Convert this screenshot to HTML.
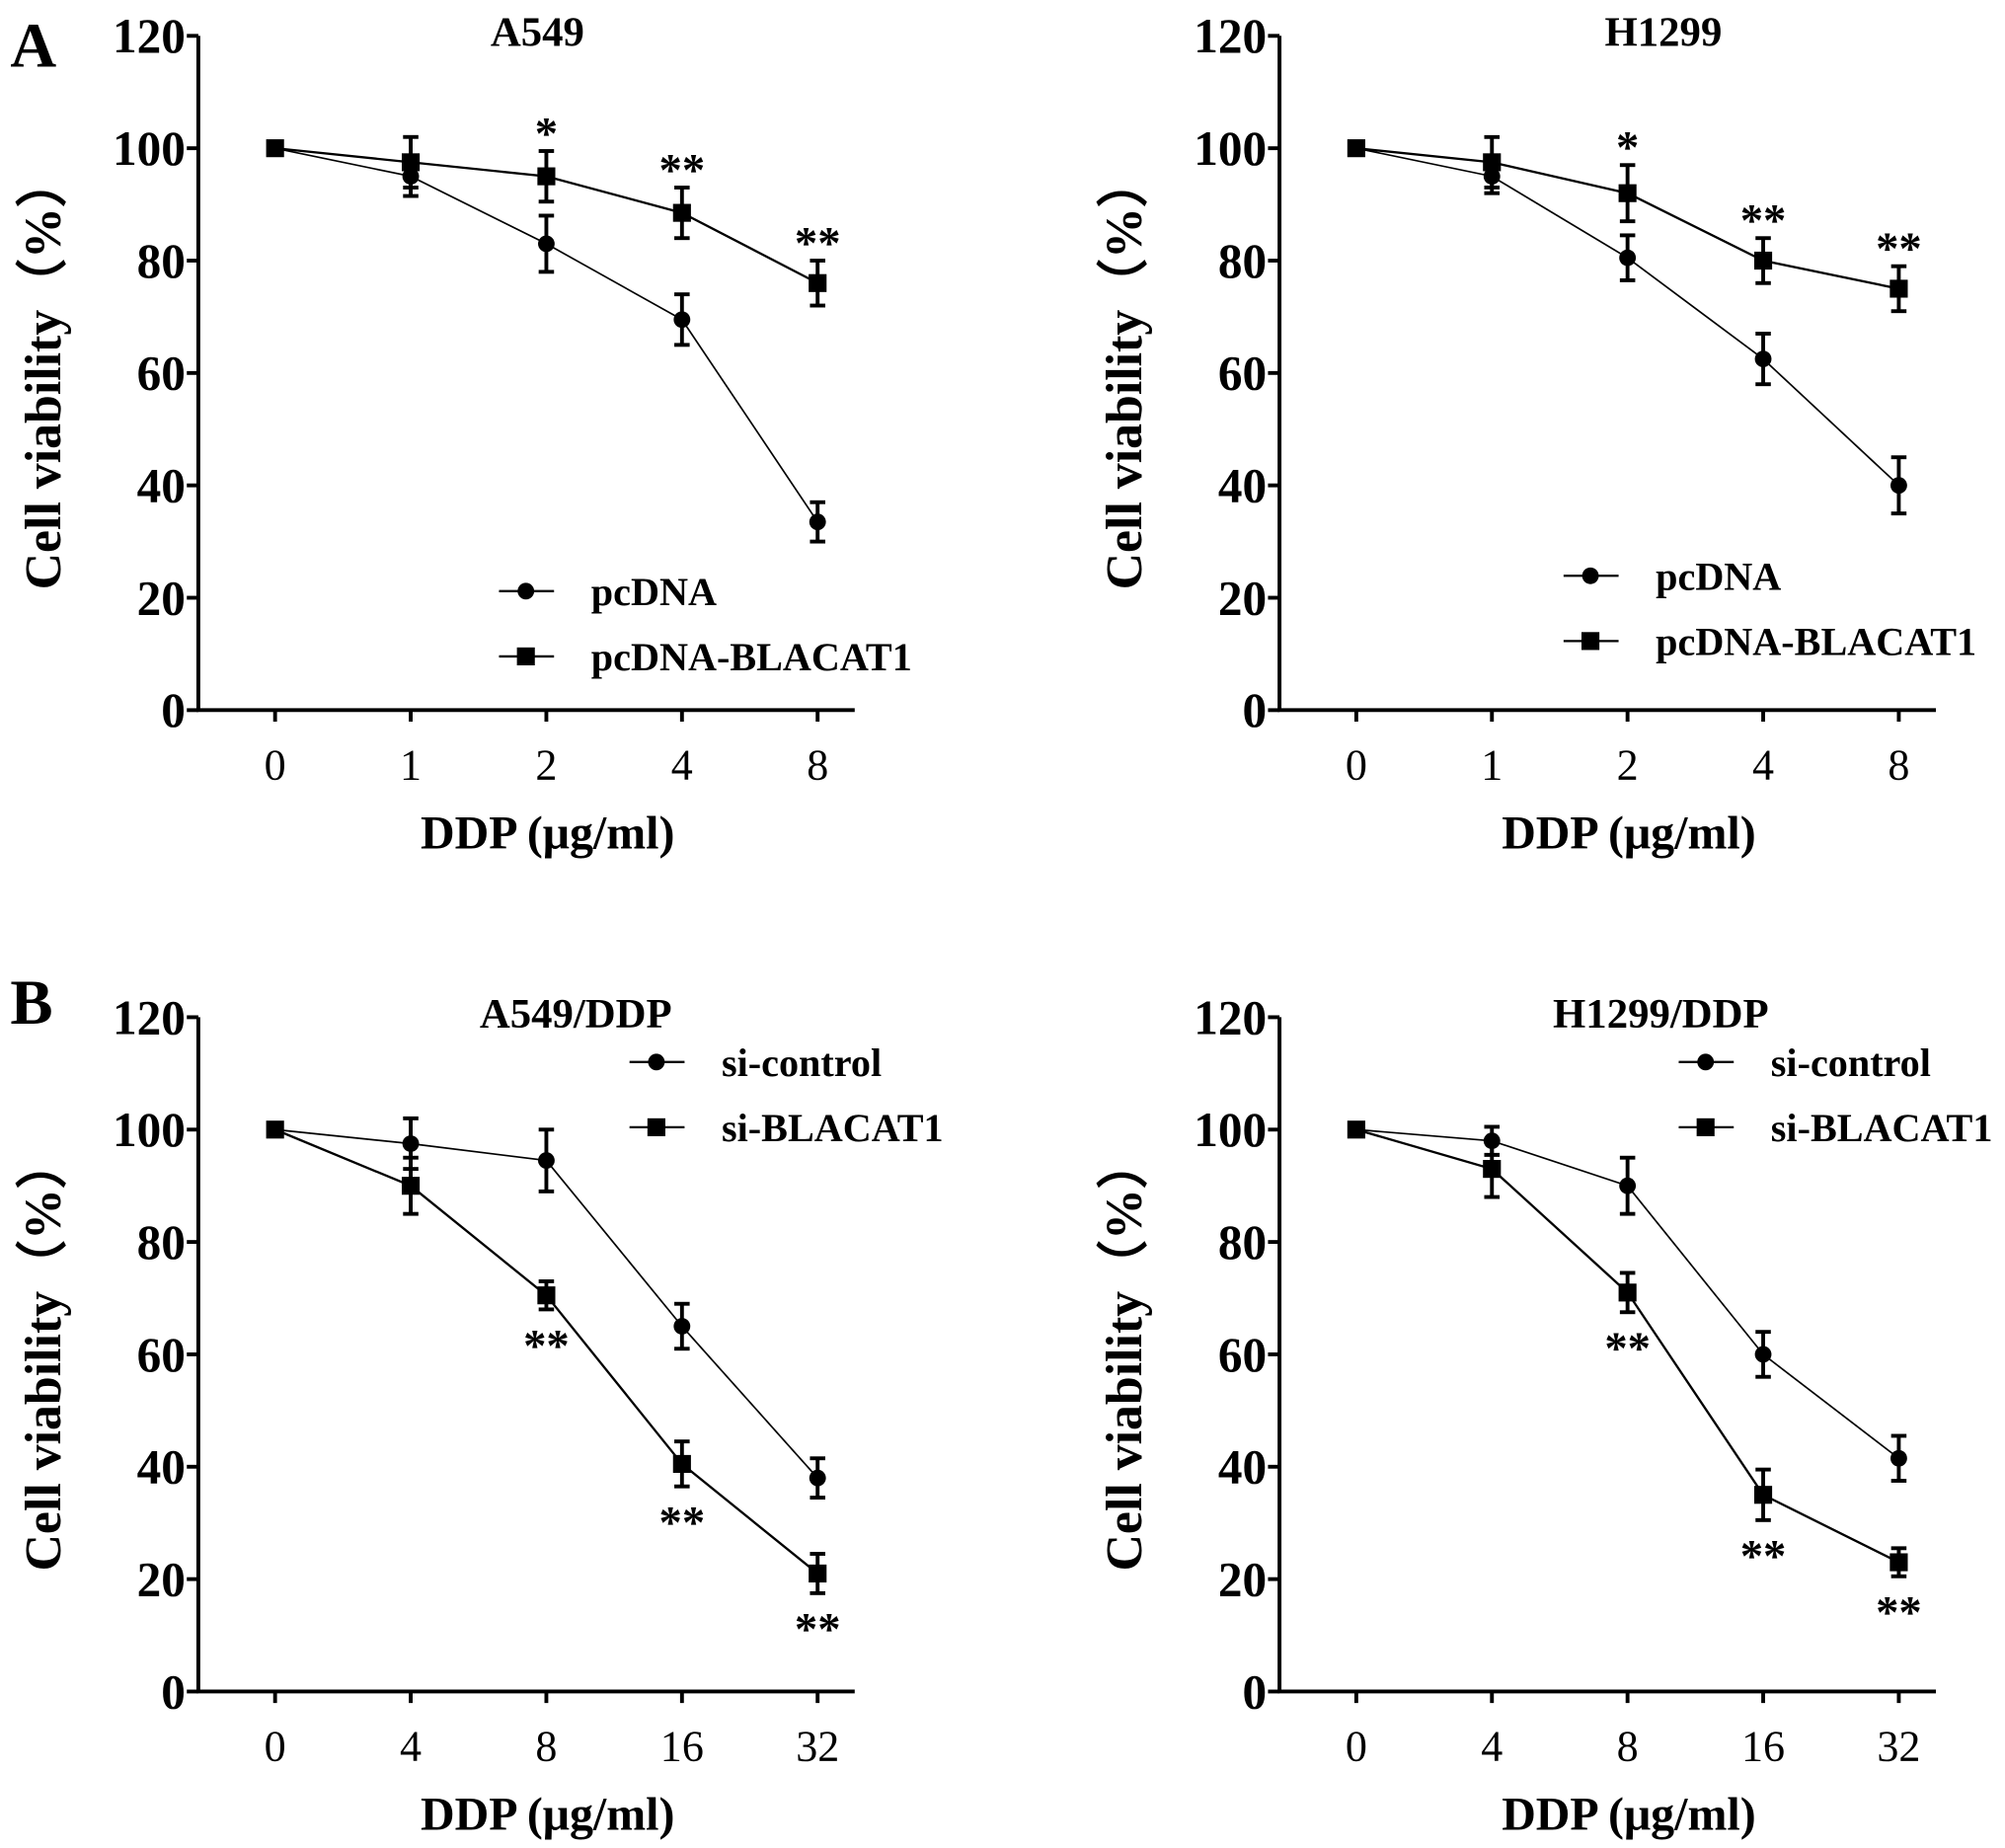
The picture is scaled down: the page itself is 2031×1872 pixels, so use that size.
<!DOCTYPE html>
<html><head><meta charset="utf-8"><style>
html,body{margin:0;padding:0;background:#fff;}
svg{display:block;}
text{font-family:"Liberation Serif","Times New Roman",serif;fill:#000;}
</style></head><body>
<svg id="fig" width="2031" height="1872" viewBox="0 0 1567 1444.3"></svg>
<script>
const xTicksA = ["0","1","2","4","8"];
const xTicksB = ["0","4","8","16","32"];
const yTicks = [0,20,40,60,80,100,120];
const a549Pc = [100,95,83,69.5,33.5];
const a549PcErr = [0,3.5,5,4.5,3.5];
const a549Bl = [100,97.5,95,88.5,76];
const a549BlErr = [0,4.5,4.5,4.5,4];
const h1299Pc = [100,95,80.5,62.5,40];
const h1299PcErr = [0,3,4,4.5,5];
const h1299Bl = [100,97.5,92,80,75];
const h1299BlErr = [0,4.5,5,4,4];
const a549dCtl = [100,97.5,94.5,65,38];
const a549dCtlErr = [0,4.5,5.5,4,3.5];
const a549dSi = [100,90,70.5,40.5,21];
const a549dSiErr = [0,5,2.5,4,3.5];
const h1299dCtl = [100,98,90,60,41.5];
const h1299dCtlErr = [0,2.5,5,4,4];
const h1299dSi = [100,93,71,35,23];
const h1299dSiErr = [0,5,3.5,4.5,2.5];
const starsA549 = ["","","*","**","**"];
const starsH1299 = ["","","*","**","**"];
const starsA549d = ["","","**","**","**"];
const starsH1299d = ["","","**","**","**"];

const NS="http://www.w3.org/2000/svg";
const svg=document.getElementById('fig');
function el(tag,attrs,parent,txt){const e=document.createElementNS(NS,tag);for(const k in attrs)e.setAttribute(k,attrs[k]);if(txt!==undefined)e.textContent=txt;(parent||svg).appendChild(e);return e;}

function panel(o){
  const g=el('g',{});
  
  
  const X0=o.ax, Y0=o.y0, H=527;
  const ys=v=>Y0-v/120*H;
  const xs=i=>X0+60+i*106;
  const ax=el('path',{d:`M${X0} ${ys(120)} L${X0} ${Y0} L${X0+513} ${Y0}`,stroke:'#000','stroke-width':3,fill:'none'},g);
  
  
  yTicks.forEach(v=>{
    el('line',{x1:X0-9,x2:X0,y1:ys(v),y2:ys(v),stroke:'#000','stroke-width':3},g);
    const t=el('text',{x:X0-10,y:ys(v)+13,'text-anchor':'end','font-size':38,'font-weight':'bold'},g,String(v));
    
    
  });
  o.xt.forEach((s,i)=>{
    el('line',{x1:xs(i),x2:xs(i),y1:Y0,y2:Y0+9,stroke:'#000','stroke-width':3},g);
    const t=el('text',{x:xs(i),y:Y0+54,'text-anchor':'middle','font-size':34},g,s);
    
    
  });
  const xt=el('text',{x:X0+273,y:Y0+108,'text-anchor':'middle','font-size':37,'font-weight':'bold'},g,'DDP (μg/ml)');
  
  
  const yt=el('text',{x:0,y:0,'text-anchor':'middle','font-size':40,'font-weight':'bold',transform:`translate(${X0-108},${ys(60)}) rotate(-90)`},g,'Cell viability（%）');
  
  
  const tt=el('text',{x:o.tx,y:ys(120)+8,'text-anchor':'middle','font-size':33,'font-weight':'bold'},g,o.title);
  
  
  [[o.s1,o.e1,'circle',1.3],[o.s2,o.e2,'square',1.8]].forEach(([vals,errs,shape,lw])=>{
    const sg=el('g',{},g);
    
    
    el('polyline',{points:vals.map((v,i)=>xs(i)+','+ys(v)).join(' '),fill:'none',stroke:'#000','stroke-width':lw},sg);
    vals.forEach((v,i)=>{
      const e=errs[i];
      if(e>0){
        el('line',{x1:xs(i),x2:xs(i),y1:ys(v+e),y2:ys(v-e),stroke:'#000','stroke-width':3},sg);
        el('line',{x1:xs(i)-6,x2:xs(i)+6,y1:ys(v+e),y2:ys(v+e),stroke:'#000','stroke-width':3},sg);
        el('line',{x1:xs(i)-6,x2:xs(i)+6,y1:ys(v-e),y2:ys(v-e),stroke:'#000','stroke-width':3},sg);
      }
      let m;
      if(shape==='circle') m=el('circle',{cx:xs(i),cy:ys(v),r:6.5,fill:'#000'},sg);
      else m=el('rect',{x:xs(i)-7,y:ys(v)-7,width:14,height:14,fill:'#000'},sg);
      
      
    });
  });
  o.stars.forEach((s,i)=>{
    if(!s)return;
    const above=o.starAbove;
    const base= above ? ys(Math.max(o.s1[i]+o.e1[i],o.s2[i]+o.e2[i]))-16 : ys(o.s2[i]-o.e2[i])+26;
    const t=el('text',{x:xs(i),y:base+14,'text-anchor':'middle','font-size':36,'font-weight':'bold'},g,s);
    
    
  });
  [[o.l1,'circle',0],[o.l2,'square',51]].forEach(([lab,shape,dy])=>{
    const lg=el('g',{},g);
    
    
    const ly=o.ly+dy;
    el('line',{x1:o.lx,x2:o.lx+43,y1:ly,y2:ly,stroke:'#000','stroke-width':1.8},lg);
    if(shape==='circle') el('circle',{cx:o.lx+21,cy:ly,r:6.5,fill:'#000'},lg);
    else el('rect',{x:o.lx+14,y:ly-7,width:14,height:14,fill:'#000'},lg);
    el('text',{x:o.lx+72,y:ly+11,'font-size':31,'font-weight':'bold'},lg,lab);
  });
}
panel({name:'panel-a549',ax:155,y0:555,xt:xTicksA,title:'A549',tx:420,s1:a549Pc,e1:a549PcErr,s2:a549Bl,e2:a549BlErr,stars:starsA549,starAbove:true,l1:'pcDNA',l2:'pcDNA-BLACAT1',lx:390,ly:462});
panel({name:'panel-h1299',ax:1000,y0:555,xt:xTicksA,title:'H1299',tx:1300,s1:h1299Pc,e1:h1299PcErr,s2:h1299Bl,e2:h1299BlErr,stars:starsH1299,starAbove:true,l1:'pcDNA',l2:'pcDNA-BLACAT1',lx:1222,ly:450});
panel({name:'panel-a549-ddp',ax:155,y0:1322,xt:xTicksB,title:'A549/DDP',tx:450,s1:a549dCtl,e1:a549dCtlErr,s2:a549dSi,e2:a549dSiErr,stars:starsA549d,starAbove:false,l1:'si-control',l2:'si-BLACAT1',lx:492,ly:830});
panel({name:'panel-h1299-ddp',ax:1000,y0:1322,xt:xTicksB,title:'H1299/DDP',tx:1298,s1:h1299dCtl,e1:h1299dCtlErr,s2:h1299dSi,e2:h1299dSiErr,stars:starsH1299d,starAbove:false,l1:'si-control',l2:'si-BLACAT1',lx:1312,ly:830});
const la=el('text',{x:8,y:52,'font-size':50,'font-weight':'bold'},svg,'A');


const lb=el('text',{x:8,y:800,'font-size':50,'font-weight':'bold'},svg,'B');


</script>
</body></html>
